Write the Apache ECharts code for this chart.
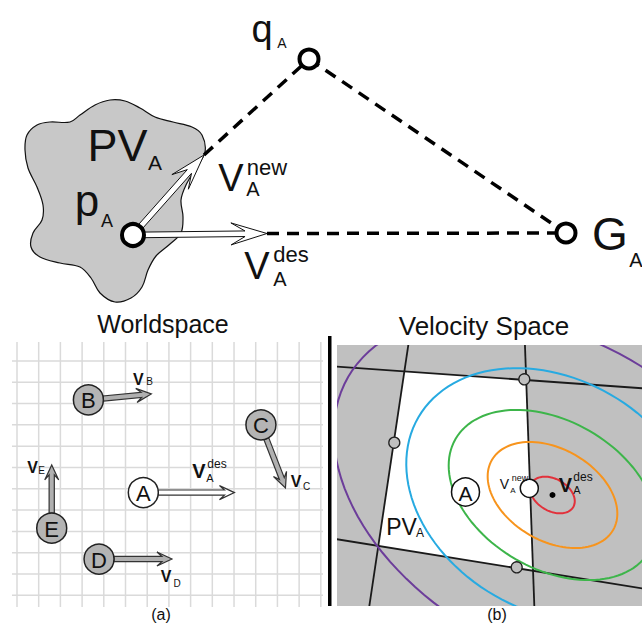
<!DOCTYPE html>
<html>
<head>
<meta charset="utf-8">
<script src="https://cdn.jsdelivr.net/npm/echarts@6/dist/echarts.min.js"></script>
<style>
  html, body { margin: 0; padding: 0; background: #fff; }
  #chart { width: 642px; height: 625px; }
</style>
</head>
<body>
<div id="chart"></div>
<script>
var FONT = '"Liberation Sans", Arial, Helvetica, sans-serif'

// ---- top: agent A, its permitted velocities and the goal ----
var pvOutline = [[25, 150], [27, 135], [37, 125], [50, 122], [70, 122], [80, 115], [95, 105], [110, 100],
  [125, 101], [140, 108], [155, 117], [173, 122], [192, 127], [202, 135], [205, 152], [196, 168],
  [186, 185], [181, 200], [183, 217], [181, 233], [170, 244], [156, 256], [148, 270], [142, 287],
  [131, 298], [115, 302], [100, 293], [91, 278], [80, 267], [60, 263], [40, 257], [31, 247],
  [33, 233], [42, 220], [43, 205], [37, 187], [28, 168]]
var nodeNames = ['p', 'q', 'G']
var nodeX = [133, 309, 566]
var nodeY = [235, 59, 233]
var velNames = ['new', 'des']
var velTipX = [204, 267]
var velTipY = [155, 233.5]
var dashFrom = ['new', 'q', 'des']
var dashTo = ['q', 'G', 'G']

// ---- (a) worldspace, in grid cells ----
var cellsX = [0, 1, 2, 3, 4, 5, 6, 7, 8, 9, 10, 11, 12, 13, 14]
var cellsY = [0, 1, 2, 3, 4, 5, 6, 7, 8, 9, 10, 11]
var agentNames = ['A', 'B', 'C', 'D', 'E']
var agentX = [5.82, 3.29, 11.24, 3.78, 1.6]
var agentY = [6.18, 1.83, 3.0, 9.3, 7.85]
var agentVx = [4.2, 2.9, 1.13, 3.36, 0]
var agentVy = [0, -0.28, 2.96, 0, -2.97]

// ---- (b) velocity space, relative to vA des ----
var constraintLines = [
  [-230, -129.4, 100, -106],
  [-141.5, -168, -186, 130],
  [-28.2, -168, -17.5, 130],
  [-230, 41.9, 100, 95]
]
var pvCorners = [[-148.2, -123.5], [-26.3, -114.9], [-19.7, 75.8], [-174.2, 51]]
var constraintPoints = [[-28.2, -115.7], [-158.2, -52.3], [-35.8, 72.3]]
var levelA = [24, 70, 112, 155, 236]
var levelB = [16, 46, 74, 116, 156]
var levelColors = ['#e2313b', '#f7941d', '#3db54a', '#27aae1', '#6c3d9a']
var vNew = [-23.2, -6.7]
var vDes = [0, 0]
var posA = [-87, -3]

// text placed on the page (centre x, centre y, size, bold)
var labels = [
  ['q', 262, 29, 38], ['A', 282, 43, 14],
  ['PV', 117.5, 145, 45], ['A', 155, 162.5, 21],
  ['p', 87, 200, 44], ['A', 107, 221, 18],
  ['V', 231, 178, 38], ['new', 267, 167, 22], ['A', 253, 189, 20],
  ['V', 257, 266, 38], ['des', 291, 254, 22], ['A', 280, 279, 20],
  ['G', 610, 234, 46], ['A', 636, 260, 20],
  ['Worldspace', 163, 324, 25], ['Velocity Space', 484, 326, 26],
  ['(a)', 161, 614, 16], ['(b)', 497, 614, 16],
  ['V', 138.3, 379, 16, 1], ['B', 149.5, 381, 10],
  ['V', 199, 471, 20, 1], ['des', 217, 463.5, 12], ['A', 210, 478, 11],
  ['V', 296, 481, 16, 1], ['C', 306.5, 486.5, 10],
  ['V', 32.5, 467, 16, 1], ['E', 41.5, 470, 10],
  ['V', 166, 576, 16, 1], ['D', 177, 583, 10],
  ['PV', 401.5, 526.5, 23], ['A', 420, 532.5, 12],
  ['V', 504.5, 484, 14], ['new', 520, 478, 9], ['A', 513, 490, 8],
  ['V', 565.5, 484.5, 20, 1], ['des', 583, 477, 12], ['A', 577, 490, 11]
]

function nodePos(name) {
  var i = nodeNames.indexOf(name)
  if (i >= 0) return [nodeX[i], nodeY[i]]
  i = velNames.indexOf(name)
  return [velTipX[i], velTipY[i]]
}

// hollow arrow outline, in pixels
function arrowPoints(s, e, w, L, H, n) {
  var dx = e[0] - s[0]
  var dy = e[1] - s[1]
  var len = Math.sqrt(dx * dx + dy * dy)
  var ux = dx / len
  var uy = dy / len
  var nx = -uy
  var ny = ux
  var bx = e[0] - ux * L
  var by = e[1] - uy * L
  var kx = e[0] - ux * (L - n)
  var ky = e[1] - uy * (L - n)
  return [
    [s[0] + nx * w, s[1] + ny * w],
    [kx + nx * w, ky + ny * w],
    [bx + nx * H, by + ny * H],
    [e[0], e[1]],
    [bx - nx * H, by - ny * H],
    [kx - nx * w, ky - ny * w],
    [s[0] - nx * w, s[1] - ny * w]
  ]
}

var hidden = { show: false }
function axis(idx, min, max, inverse) {
  return { type: 'value', gridIndex: idx, min: min, max: max, inverse: !!inverse, show: false, splitLine: hidden }
}

var chart = echarts.init(document.getElementById('chart'), null, { renderer: 'svg' })

var option = {
  animation: false,
  backgroundColor: '#fff',
  grid: [
    { left: 0, top: 0, width: 642, height: 310, show: false },
    { left: 12, top: 342, width: 311, height: 265, show: false },
    { left: 337, top: 345, width: 305, height: 261, show: true, backgroundColor: '#c0c0c0', borderWidth: 0 }
  ],
  xAxis: [axis(0, 0, 642), axis(1, -0.23, 14.1), axis(2, -215.5, 89.5)],
  yAxis: [axis(0, 0, 310, true), axis(1, -0.89, 11.55, true), axis(2, -150, 111, true)],
  graphic: [{
    type: 'rect',
    shape: { x: 328, y: 336, width: 3.5, height: 270 },
    style: { fill: '#000' },
    z: 10
  }].concat(labels.map(function (l) {
    return {
      type: 'text',
      x: l[1],
      y: l[2],
      z: 20,
      style: {
        text: l[0],
        font: (l[4] ? 'bold ' : '') + l[3] + 'px ' + FONT,
        fill: '#111',
        align: 'center',
        verticalAlign: 'middle'
      }
    }
  })),
  series: [
    // top: permitted velocity blob
    {
      type: 'custom', xAxisIndex: 0, yAxisIndex: 0, data: [[0, 0]],
      renderItem: function (params, api) {
        return {
          type: 'polygon',
          shape: { points: pvOutline.map(function (p) { return api.coord(p) }), smooth: 0.35 },
          style: { fill: '#c8c8c8', stroke: '#111', lineWidth: 1.2 }
        }
      }
    },
    // top: dashed paths
    {
      type: 'custom', xAxisIndex: 0, yAxisIndex: 0,
      data: dashFrom.map(function (f, i) { return nodePos(f).concat(nodePos(dashTo[i])) }),
      renderItem: function (params, api) {
        var a = api.coord([api.value(0), api.value(1)])
        var b = api.coord([api.value(2), api.value(3)])
        return {
          type: 'line',
          shape: { x1: a[0], y1: a[1], x2: b[0], y2: b[1] },
          style: { stroke: '#000', lineWidth: 3.5, lineDash: [12, 8] }
        }
      }
    },
    // top: velocity arrows from p
    {
      type: 'custom', xAxisIndex: 0, yAxisIndex: 0,
      data: velNames.map(function (n, i) { return [nodeX[0], nodeY[0], velTipX[i], velTipY[i]] }),
      renderItem: function (params, api) {
        var s = api.coord([api.value(0), api.value(1)])
        var e = api.coord([api.value(2), api.value(3)])
        return {
          type: 'polygon',
          shape: { points: arrowPoints(s, e, 2.8, 36, 11, 14) },
          style: { fill: '#fff', stroke: '#111', lineWidth: 1 }
        }
      }
    },
    // top: p, q, G
    {
      type: 'custom', xAxisIndex: 0, yAxisIndex: 0,
      data: nodeX.map(function (x, i) { return [x, nodeY[i]] }),
      renderItem: function (params, api) {
        var c = api.coord([api.value(0), api.value(1)])
        return {
          type: 'circle',
          shape: { cx: c[0], cy: c[1], r: params.dataIndex === 0 ? 11 : 9.5 },
          style: { fill: '#fff', stroke: '#000', lineWidth: 4 }
        }
      }
    },
    // (a) grid lines
    {
      type: 'custom', xAxisIndex: 1, yAxisIndex: 1,
      data: cellsX.map(function (x) { return [x, 0] }),
      renderItem: function (params, api) {
        var a = api.coord([api.value(0), -0.89])
        var b = api.coord([api.value(0), 11.55])
        return { type: 'line', shape: { x1: a[0], y1: a[1], x2: b[0], y2: b[1] }, style: { stroke: '#dadada', lineWidth: 1.5 } }
      }
    },
    {
      type: 'custom', xAxisIndex: 1, yAxisIndex: 1,
      data: cellsY.map(function (y) { return [0, y] }),
      renderItem: function (params, api) {
        var a = api.coord([-0.23, api.value(1)])
        var b = api.coord([14.1, api.value(1)])
        return { type: 'line', shape: { x1: a[0], y1: a[1], x2: b[0], y2: b[1] }, style: { stroke: '#dadada', lineWidth: 1.5 } }
      }
    },
    // (a) agents and their velocities
    {
      type: 'custom', xAxisIndex: 1, yAxisIndex: 1,
      data: agentNames.map(function (n, i) { return [agentX[i], agentY[i], agentVx[i], agentVy[i]] }),
      renderItem: function (params, api) {
        var x = api.value(0)
        var y = api.value(1)
        var c = api.coord([x, y])
        var t = api.coord([x + api.value(2), y + api.value(3)])
        var dx = t[0] - c[0]
        var dy = t[1] - c[1]
        var len = Math.sqrt(dx * dx + dy * dy)
        var r = 15
        var s = [c[0] + dx / len * r, c[1] + dy / len * r]
        var own = agentNames[params.dataIndex] === 'A'
        return {
          type: 'group',
          children: [
            {
              type: 'polygon',
              shape: { points: arrowPoints(s, t, 2.6, 15, 7, 5) },
              style: { fill: own ? '#fff' : '#b0b0b0', stroke: '#333', lineWidth: 1.2 }
            },
            {
              type: 'circle',
              shape: { cx: c[0], cy: c[1], r: r },
              style: { fill: own ? '#fff' : '#b4b4b4', stroke: '#222', lineWidth: 1.5 }
            },
            {
              type: 'text', x: c[0], y: c[1] + 1,
              style: { text: agentNames[params.dataIndex], font: '22px ' + FONT, fill: '#111', align: 'center', verticalAlign: 'middle' }
            }
          ]
        }
      }
    },
    // (b) permitted region
    {
      type: 'custom', xAxisIndex: 2, yAxisIndex: 2, clip: true, data: [[0, 0]],
      renderItem: function (params, api) {
        return {
          type: 'polygon',
          shape: { points: pvCorners.map(function (p) { return api.coord(p) }) },
          style: { fill: '#fff' }
        }
      }
    },
    // (b) constraint lines
    {
      type: 'custom', xAxisIndex: 2, yAxisIndex: 2, clip: true, data: constraintLines,
      renderItem: function (params, api) {
        var a = api.coord([api.value(0), api.value(1)])
        var b = api.coord([api.value(2), api.value(3)])
        return { type: 'line', shape: { x1: a[0], y1: a[1], x2: b[0], y2: b[1] }, style: { stroke: '#1a1a1a', lineWidth: 1.8 } }
      }
    },
    // (b) cost ellipses around vA des
    {
      type: 'custom', xAxisIndex: 2, yAxisIndex: 2, clip: true,
      data: levelA.map(function (a, i) { return [vDes[0], vDes[1], a, levelB[i]] }),
      renderItem: function (params, api) {
        var cx = api.value(0)
        var cy = api.value(1)
        var a = api.value(2)
        var b = api.value(3)
        var th = Math.PI / 6
        var pts = []
        for (var k = 0; k <= 120; k++) {
          var t = k / 120 * Math.PI * 2
          pts.push(api.coord([
            cx + a * Math.cos(t) * Math.cos(th) - b * Math.sin(t) * Math.sin(th),
            cy + a * Math.cos(t) * Math.sin(th) + b * Math.sin(t) * Math.cos(th)
          ]))
        }
        return {
          type: 'polyline',
          shape: { points: pts },
          style: { fill: null, stroke: levelColors[params.dataIndex], lineWidth: 2 }
        }
      }
    },
    // (b) constraint points
    {
      type: 'custom', xAxisIndex: 2, yAxisIndex: 2, clip: true, data: constraintPoints,
      renderItem: function (params, api) {
        var c = api.coord([api.value(0), api.value(1)])
        return { type: 'circle', shape: { cx: c[0], cy: c[1], r: 5.5 }, style: { fill: '#c0c0c0', stroke: '#222', lineWidth: 1.3 } }
      }
    },
    // (b) A, new velocity, desired velocity
    {
      type: 'custom', xAxisIndex: 2, yAxisIndex: 2, clip: true, data: [posA, vNew, vDes],
      renderItem: function (params, api) {
        var c = api.coord([api.value(0), api.value(1)])
        var i = params.dataIndex
        if (i === 2) {
          return { type: 'circle', shape: { cx: c[0], cy: c[1], r: 3 }, style: { fill: '#000' } }
        }
        var circle = {
          type: 'circle',
          shape: { cx: c[0], cy: c[1], r: i === 0 ? 14 : 9 },
          style: { fill: '#fff', stroke: '#111', lineWidth: 1.5 }
        }
        if (i === 1) return circle
        return {
          type: 'group',
          children: [circle, {
            type: 'text', x: c[0], y: c[1] + 1,
            style: { text: 'A', font: '21px ' + FONT, fill: '#111', align: 'center', verticalAlign: 'middle' }
          }]
        }
      }
    }
  ]
}

chart.setOption(option)
</script>
</body>
</html>
